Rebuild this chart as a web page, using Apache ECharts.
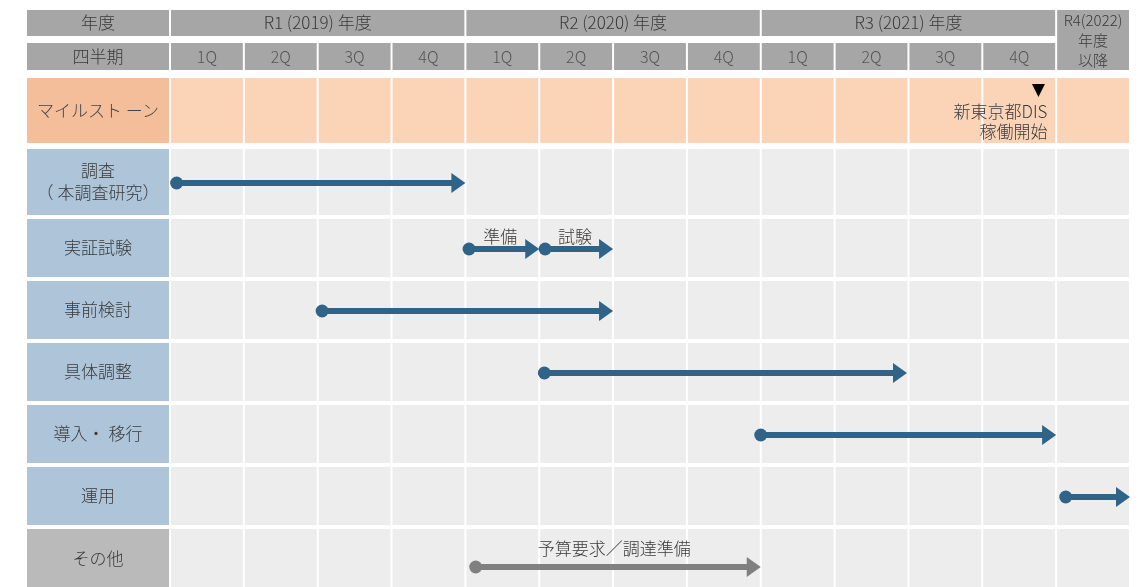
<!DOCTYPE html>
<html>
<head>
<meta charset="utf-8">
<script src="https://cdn.jsdelivr.net/npm/echarts@6/dist/echarts.min.js"></script>
<style>
  html, body { margin: 0; padding: 0; background: #fff; }
  #chart { width: 1142px; height: 587px; }
</style>
</head>
<body>
<div id="chart"></div>
<script>
// ---- data ----
const yearLabels = ['R1 (2019) 年度', 'R2 (2020) 年度', 'R3 (2021) 年度'];
const lastYearLabel = 'R4(2022)\n年度\n以降';
const quarterLabels = ['1Q', '2Q', '3Q', '4Q', '1Q', '2Q', '3Q', '4Q', '1Q', '2Q', '3Q', '4Q'];
const taskNames = ['調査\n（ 本調査研究）', '実証試験', '事前検討', '具体調整', '導入・ 移行', '運用', 'その他'];

// arrows, x in quarters from R1 1Q start
const arrowTask = [0, 1, 1, 2, 3, 4, 5, 6];
const arrowStart = [0.09, 4.05, 5.08, 2.06, 5.07, 8.0, 12.13, 4.14];
const arrowEnd = [4.0, 5.0, 6.0, 6.0, 9.98, 12.0, 13.0, 8.0];
const arrowLabel = ['', '準備', '試験', '', '', '', '', '予算要求／調達準備'];

const milestoneAt = 11.76;
const milestoneText = '新東京都DIS\n稼働開始';

// ---- layout (y in px units of the value axis) ----
const X_MIN = -1.95;
const X_MAX = 13;
const HEAD1 = [9, 37];
const HEAD2 = [42, 71];
const MILE = [77, 144];
const TASK_ROWS = [[148, 216], [218, 278], [280, 340], [342, 402], [404, 464], [466, 526], [528, 590]];
const OTHER_DROP = 8;

const FONT = '"Noto Sans CJK JP", "Noto Sans", sans-serif';
const C_HEAD = '#a6a6a6';
const C_MILE_LABEL = '#f4be9b';
const C_MILE_CELL = '#fbd4b8';
const C_TASK_LABEL = '#adc4d9';
const C_OTHER_LABEL = '#bababa';
const C_CELL = '#ededed';
const C_ARROW = '#2f6387';
const C_ARROW_OTHER = '#808080';
const C_TEXT = '#3a3a3a';

// build background cells
const cells = [];
function cell(x0, x1, r, fill, text, color, size) {
  cells.push({ x0, x1, y0: r[0], y1: r[1], fill, text: text || '', color: color || C_TEXT, size: size || 17 });
}
cell(X_MIN, 0, HEAD1, C_HEAD, '年度');
yearLabels.forEach((t, i) => cell(i * 4, i * 4 + 4, HEAD1, C_HEAD, t));
cell(12, 13, [HEAD1[0], HEAD2[1]], C_HEAD, lastYearLabel, C_TEXT, 15);
cell(X_MIN, 0, HEAD2, C_HEAD, '四半期');
quarterLabels.forEach((t, i) => cell(i, i + 1, HEAD2, C_HEAD, t, '#555', 16));
cell(X_MIN, 0, MILE, C_MILE_LABEL, 'マイルスト ーン', '#444');
for (let i = 0; i < 13; i++) cell(i, i + 1, MILE, C_MILE_CELL);
taskNames.forEach((t, k) => {
  cell(X_MIN, 0, TASK_ROWS[k], k === 6 ? C_OTHER_LABEL : C_TASK_LABEL, t);
  for (let i = 0; i < 13; i++) cell(i, i + 1, TASK_ROWS[k], C_CELL);
});

function renderCell(params, api) {
  const c = cells[params.dataIndex];
  const p0 = api.coord([c.x0, c.y0]);
  const p1 = api.coord([c.x1, c.y1]);
  const x = p0[0] + 1, y = p0[1] + 1;
  const w = p1[0] - p0[0] - 2, h = p1[1] - p0[1] - 2;
  const children = [{ type: 'rect', shape: { x, y, width: w, height: h }, style: { fill: c.fill } }];
  if (c.text) {
    children.push({
      type: 'text',
      x: x + w / 2, y: y + h / 2,
      style: {
        text: c.text, fill: c.color, font: '300 ' + c.size + 'px ' + FONT,
        align: 'center', verticalAlign: 'middle', lineHeight: c.text.indexOf('R4') === 0 ? 20 : 22
      }
    });
  }
  return { type: 'group', children };
}

function arrowY(k) {
  const r = TASK_ROWS[k];
  return (r[0] + r[1]) / 2 + (k === 6 ? OTHER_DROP : 1);
}

function renderArrow(params, api) {
  const i = params.dataIndex;
  const k = arrowTask[i];
  const a = api.coord([arrowStart[i], arrowY(k)]);
  const b = api.coord([arrowEnd[i], arrowY(k)]);
  const color = k === 6 ? C_ARROW_OTHER : C_ARROW;
  const head = 14, half = 10, shaft = 3;
  const children = [
    { type: 'rect', shape: { x: a[0], y: a[1] - shaft, width: b[0] - head - a[0] + 1, height: shaft * 2 }, style: { fill: color } },
    { type: 'polygon', shape: { points: [[b[0] - head, b[1] - half], [b[0], b[1]], [b[0] - head, b[1] + half]] }, style: { fill: color } },
    { type: 'circle', shape: { cx: a[0], cy: a[1], r: 6.5 }, style: { fill: color } }
  ];
  if (arrowLabel[i]) {
    children.push({
      type: 'text',
      x: (a[0] + b[0]) / 2 - 4, y: a[1] - (k === 6 ? 10 : 4),
      style: { text: arrowLabel[i], fill: C_TEXT, font: '300 17px ' + FONT, align: 'center', verticalAlign: 'bottom' }
    });
  }
  return { type: 'group', children };
}

function renderMilestone(params, api) {
  const p = api.coord([milestoneAt, MILE[0]]);
  return {
    type: 'group',
    children: [
      { type: 'polygon', shape: { points: [[p[0] - 6.5, p[1] + 7], [p[0] + 6.5, p[1] + 7], [p[0], p[1] + 20]] }, style: { fill: '#000' } },
      {
        type: 'text', x: p[0] + 9, y: p[1] + 25,
        style: { text: milestoneText, fill: C_TEXT, font: '300 17px ' + FONT, align: 'right', verticalAlign: 'top', lineHeight: 20 }
      }
    ]
  };
}

const chart = echarts.init(document.getElementById('chart'), null, { renderer: 'canvas' });
chart.setOption({
  animation: false,
  backgroundColor: '#fff',
  grid: { left: 26, right: 12, top: 0, bottom: 0 },
  xAxis: { type: 'value', min: X_MIN, max: X_MAX, show: false },
  yAxis: { type: 'value', min: 0, max: 587, inverse: true, show: false },
  series: [
    {
      type: 'custom', name: 'cells', renderItem: renderCell,
      data: cells.map(c => [c.x0, c.y0]), encode: { x: 0, y: 1 }, silent: true, clip: false
    },
    {
      type: 'custom', name: 'milestone', renderItem: renderMilestone,
      data: [[milestoneAt, MILE[0]]], encode: { x: 0, y: 1 }, silent: true, clip: false
    },
    {
      type: 'custom', name: 'arrows', renderItem: renderArrow,
      data: arrowStart.map((s, i) => [s, arrowEnd[i], arrowY(arrowTask[i])]), encode: { x: [0, 1], y: 2 }, silent: true, clip: false
    }
  ]
});
</script>
</body>
</html>
